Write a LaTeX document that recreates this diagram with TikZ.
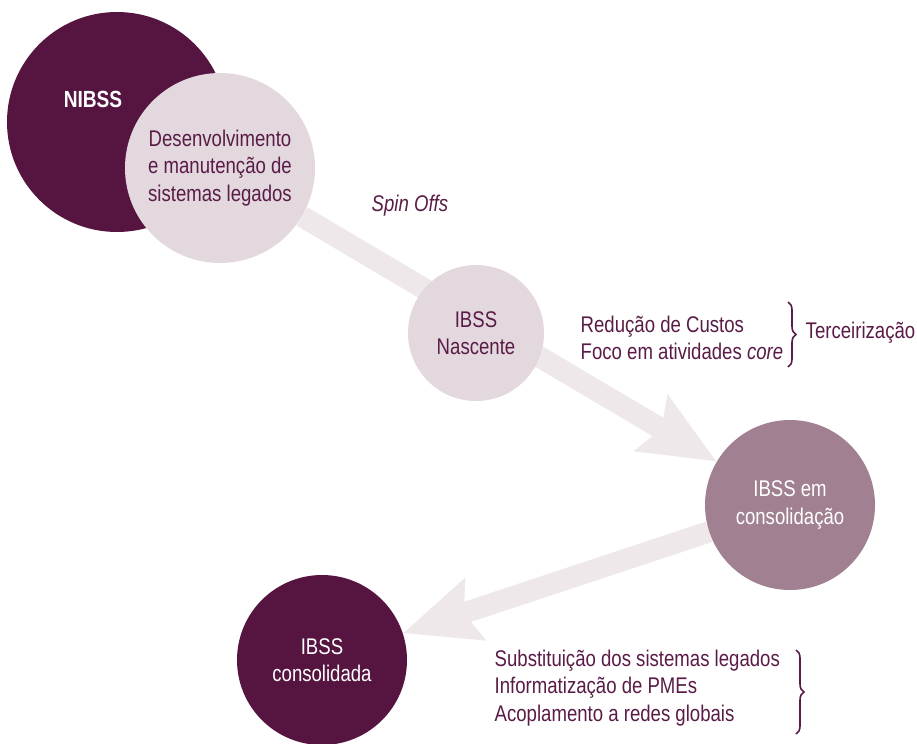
\documentclass[tikz,border=0pt]{standalone}
\usepackage{fontspec}
\setmainfont{Liberation Sans}[FakeStretch=0.82]
\usetikzlibrary{arrows.meta,backgrounds,decorations.pathreplacing}
\definecolor{plum}{HTML}{561541}
\definecolor{plumtext}{HTML}{5A1C47}
\definecolor{plumlight}{HTML}{E2D8DE}
\definecolor{plummid}{HTML}{A08091}
\definecolor{flowgray}{HTML}{EEE8EB}
\tikzset{
    disc/.style = {circle, inner sep=0pt, align=center,
        font=\fontsize{17}{20.5}\selectfont},
    darkdisc/.style = {disc, fill=plum, text=white},
    lightdisc/.style = {disc, fill=plumlight, text=plumtext},
    middisc/.style = {disc, fill=plummid, text=white},
    note/.style = {text=plumtext, align=left, anchor=west,
        font=\fontsize{17}{20.5}\selectfont},
    flow/.style = {draw=flowgray, line width=16pt,
        -{Stealth[length=56pt,width=47pt,inset=8pt,color=flowgray]}},
    curly/.style = {draw=plumtext, line width=1.2pt,
        decorate, decoration={brace, amplitude=6pt}}
}
\begin{document}
\begin{tikzpicture}[x=0.75pt, y=-0.75pt]
    \useasboundingbox (0,0) rectangle (917,743);
    \node[darkdisc, minimum size=165pt] (nibss) at (117,122) {};
    \node[disc, text=white, font=\fontsize{17.5}{20.5}\selectfont\bfseries] (nibsstxt) at (93,99) {NIBSS};
    \node[lightdisc, minimum size=142.5pt] (legado) at (220,168) {Desenvolvimento\\e manutenção de\\sistemas legados};
    \node[lightdisc, minimum size=102pt] (nascente) at (476,333) {IBSS\\Nascente};
    \node[middisc, minimum size=127.5pt] (emcons) at (790,505) {IBSS em\\consolidação};
    \node[darkdisc, minimum size=127.5pt] (consolidada) at (322,660) {IBSS\\consolidada};

    \begin{pgfonlayer}{background}
        \draw[flow] (legado) -- (emcons);
        \draw[flow] (emcons) -- (consolidada);
    \end{pgfonlayer}

    \node[note] (spin) at (367,206) {\itshape Spin Offs};
    \node[note] (motivos) at (576,338) {Redução de Custos\\Foco em atividades \textit{core}};
    \draw[curly] (788,302) -- (788,367);
    \node[note] (terc) at (801,333) {Terceirização};
    \node[note] (efeitos) at (490,688) {Substituição dos sistemas legados\\Informatização de PMEs\\Acoplamento a redes globais};
    \draw[curly] (796,650) -- (796,734);
\end{tikzpicture}
\end{document}
